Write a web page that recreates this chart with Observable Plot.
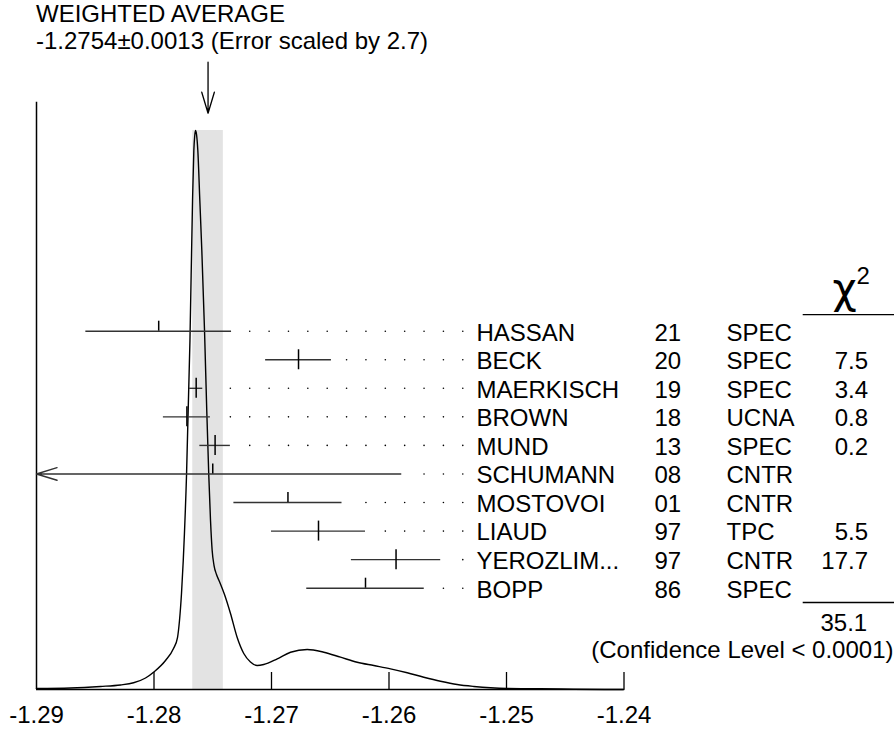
<!DOCTYPE html>
<html>
<head>
<meta charset="utf-8">
<script src="https://cdn.jsdelivr.net/npm/d3@7"></script>
<script src="https://cdn.jsdelivr.net/npm/@observablehq/plot@0.6"></script>
<style>
  html, body { margin: 0; padding: 0; background: #fff; overflow: hidden; }
  #wrap { position: relative; width: 894px; height: 730px; font-family: "Liberation Sans", Arial, Helvetica, sans-serif; }
  #wrap svg { position: absolute; left: 0; top: 0; }
  .tline { position: absolute; left: 36px; font-size: 24px; line-height: 27px; height: 27px; color: #000; white-space: nowrap; z-index: 5; }
  #t1 { top: 0px; }
  #t2 { top: 27px; }
</style>
</head>
<body>
<div id="wrap"><div id="t1" class="tline"></div><div id="t2" class="tline"></div></div>
<script>
// ---------------- data ----------------
const NAMES  = ["HASSAN", "BECK", "MAERKISCH", "BROWN", "MUND", "SCHUMANN", "MOSTOVOI", "LIAUD", "YEROZLIM...", "BOPP"];
const YEARS  = ["21", "20", "19", "18", "13", "08", "01", "97", "97", "86"];
const TECHS  = ["SPEC", "SPEC", "SPEC", "UCNA", "SPEC", "CNTR", "CNTR", "TPC", "CNTR", "SPEC"];
const VALUES = [-1.2796, -1.2677, -1.27641, -1.2772, -1.2748, -1.275, -1.2686, -1.266, -1.2594, -1.262];
const ERRORS = [0.0062, 0.0028, 0.00056, 0.0020, 0.0013, 0.016, 0.0046, 0.0040, 0.0038, 0.0050];
const USED   = [false, true, true, true, true, false, false, true, true, false];
const CHI2   = ["", "7.5", "3.4", "0.8", "0.2", "", "", "5.5", "17.7", ""];
const CHI2_TOTAL = "35.1";
const CONF_LEVEL = "(Confidence Level < 0.0001)";

const AVG = -1.2754;
const AVG_ERR = 0.0013;
const ERR_SCALE = "2.7";

const X_DOMAIN = [-1.29, -1.24];
const TICKS = [-1.29, -1.28, -1.27, -1.26, -1.25, -1.24];

// ideogram curve (height relative to the peak)
const CURVE_X = [-1.29000, -1.28711, -1.28455, -1.28285, -1.28174, -1.28072, -1.27996, -1.27902, -1.27834, -1.27800,
  -1.27783, -1.27766, -1.27751, -1.27723, -1.27694, -1.27672, -1.27661, -1.27654, -1.27647, -1.27638,
  -1.27627, -1.27610, -1.27593, -1.27570, -1.27551, -1.27534, -1.27519, -1.27505, -1.27489, -1.27468,
  -1.27443, -1.27400, -1.27349, -1.27292, -1.27236, -1.27179, -1.27122, -1.27066, -1.26951, -1.26838,
  -1.26696, -1.26555, -1.26413, -1.26271, -1.26129, -1.25987, -1.25845, -1.25704, -1.25562, -1.25420,
  -1.25278, -1.25136, -1.24994, -1.24711, -1.24430, -1.24000];
const CURVE_Y = [0.0018, 0.0027, 0.0054, 0.0081, 0.0120, 0.0206, 0.0322, 0.0519, 0.0733, 0.0930,
  0.1234, 0.1717, 0.2308, 0.3846, 0.6243, 0.8748, 0.9642, 0.9893, 1.0000, 0.9928,
  0.9642, 0.8748, 0.7853, 0.6422, 0.4991, 0.3846, 0.3023, 0.2487, 0.2218, 0.2057,
  0.1932, 0.1699, 0.1360, 0.0930, 0.0644, 0.0492, 0.0429, 0.0447, 0.0549, 0.0667,
  0.0716, 0.0667, 0.0578, 0.0488, 0.0429, 0.0370, 0.0299, 0.0220, 0.0148, 0.0089,
  0.0054, 0.0030, 0.0018, 0.0013, 0.0005, 0.0000];

// leader dots grid
const LEADER_END = -1.25372;
const LEADER_STEP = 0.0016485;
const LEADER_GAP = 0.001;

// ---------------- layout ----------------
const FONT = '"Liberation Sans", Arial, Helvetica, sans-serif';
const W = 894, H = 730;
const FRAME = {left: 36, right: 623.5, top: 130, bottom: 689};
const ROW_RANGE = [330.7, 587.7];
const TICK_LEN = 17;
const innerH = FRAME.bottom - FRAME.top;
const INK = "#000";
const BAR = "#333";

function arrowShape(h, w) {
  return {
    draw(context, l) {
      context.moveTo(0, 0);
      context.lineTo(0, -l);
      context.moveTo(-w, -l + h);
      context.lineTo(0, -l);
      context.lineTo(w, -l + h);
    }
  };
}

const curve = CURVE_X.map((x, i) => ({x, y: CURVE_Y[i]}));

const rows = NAMES.map((name, i) => ({
  i, name, year: YEARS[i], tech: TECHS[i], v: VALUES[i], e: ERRORS[i], chi: CHI2[i], used: USED[i]
}));
const inRange = rows.filter(d => d.v - d.e >= X_DOMAIN[0]);
const clipped = rows.filter(d => d.v - d.e < X_DOMAIN[0]);

const dots = [];
for (const d of rows) {
  for (let k = 0; ; k++) {
    const x = LEADER_END - k * LEADER_STEP;
    if (x <= d.v + d.e + LEADER_GAP) break;
    dots.push({x, i: d.i});
  }
}

// ---------------- ideogram plot ----------------
const plotA = Plot.plot({
  width: W, height: H,
  marginLeft: FRAME.left, marginRight: W - FRAME.right,
  marginTop: FRAME.top, marginBottom: H - FRAME.bottom,
  style: {fontFamily: FONT, fontSize: "24px", background: "white", color: INK},
  x: {domain: X_DOMAIN, label: null},
  y: {domain: [0, 1], axis: null},
  marks: [
    Plot.rect([AVG], {x1: d => d - AVG_ERR, x2: d => d + AVG_ERR, y1: () => 0, y2: () => 1, fill: "#e3e3e3"}),
    Plot.line(curve, {x: "x", y: "y", curve: "monotone-x", stroke: INK, strokeWidth: 1.4}),
    Plot.ruleX([X_DOMAIN[0]], {insetTop: -28.3, stroke: INK, strokeWidth: 1.5}),
    Plot.ruleY([0], {stroke: INK, strokeWidth: 1.5}),
    Plot.ruleX(TICKS.slice(1), {insetTop: innerH - TICK_LEN, stroke: INK, strokeWidth: 1.3}),
    Plot.axisX(TICKS, {tickSize: 0, tickPadding: 16, tickFormat: d => d.toFixed(2), label: null}),
    Plot.vector([AVG], {x: d => d, y: () => 1, length: 51, rotate: 180, anchor: "end", dy: -17.3,
      shape: arrowShape(21, 6.3), stroke: INK, strokeWidth: 1.3})
  ]
});

// ---------------- measurements plot ----------------
const plotB = Plot.plot({
  width: W, height: H, margin: 0,
  style: {fontFamily: FONT, fontSize: "24px", background: "transparent", color: INK},
  x: {domain: X_DOMAIN, range: [FRAME.left, FRAME.right], axis: null},
  y: {domain: [0, NAMES.length - 1], range: ROW_RANGE, axis: null},
  marks: [
    Plot.dot(dots, {x: "x", y: "i", r: 0.8, fill: INK, stroke: null}),
    Plot.ruleY(inRange, {y: "i", x1: d => d.v - d.e, x2: d => d.v + d.e, stroke: BAR, strokeWidth: 1.4}),
    Plot.arrow(clipped, {x1: d => d.v + d.e, x2: () => X_DOMAIN[0], y1: "i", y2: "i",
      headLength: 23, headAngle: 34, stroke: BAR, strokeWidth: 1.4}),
    Plot.ruleX(rows.filter(d => d.used), {x: "v", y1: d => d.i - 0.35, y2: d => d.i + 0.35, stroke: INK, strokeWidth: 1.5}),
    Plot.ruleX(rows.filter(d => !d.used), {x: "v", y1: d => d.i - 0.35, y2: "i", stroke: INK, strokeWidth: 1.5}),
    Plot.text(rows, {y: "i", text: "name", frameAnchor: "left", dx: 476, dy: 1.7, textAnchor: "start", lineAnchor: "middle"}),
    Plot.text(rows, {y: "i", text: "year", frameAnchor: "left", dx: 654, dy: 1.7, textAnchor: "start", lineAnchor: "middle"}),
    Plot.text(rows, {y: "i", text: "tech", frameAnchor: "left", dx: 726, dy: 1.7, textAnchor: "start", lineAnchor: "middle"}),
    Plot.text(rows.filter(d => d.chi), {y: "i", text: "chi", frameAnchor: "left", dx: 867.5, dy: 1.7, textAnchor: "end", lineAnchor: "middle"}),
    // chi-square header
    Plot.text(["χ"], {y: () => -1, text: d => d, frameAnchor: "left", dx: 844, textAnchor: "middle", lineAnchor: "bottom",
      fontSize: 42, fontFamily: "DejaVu Sans"}),
    Plot.text(["2"], {y: () => -1, text: d => d, frameAnchor: "left", dx: 856, dy: -19, textAnchor: "start", lineAnchor: "bottom",
      fontSize: 24}),
    Plot.ruleY([-0.58, NAMES.length - 0.5], {insetLeft: 802.7, stroke: INK, strokeWidth: 1.3}),
    Plot.text([CHI2_TOTAL], {y: () => NAMES.length + 0.5, text: d => d, frameAnchor: "left", dx: 866.7, textAnchor: "end", lineAnchor: "bottom"}),
    Plot.text([CONF_LEVEL], {y: () => NAMES.length + 1.5, text: d => d, frameAnchor: "left", dx: 893, dy: -1.5, textAnchor: "end", lineAnchor: "bottom"})
  ]
});

const wrap = document.getElementById("wrap");
wrap.appendChild(plotA);
wrap.appendChild(plotB);
document.getElementById("t1").textContent = "WEIGHTED AVERAGE";
document.getElementById("t2").textContent =
  AVG.toFixed(4) + "\u00b1" + AVG_ERR.toFixed(4) + " (Error scaled by " + ERR_SCALE + ")";
</script>
</body>
</html>
